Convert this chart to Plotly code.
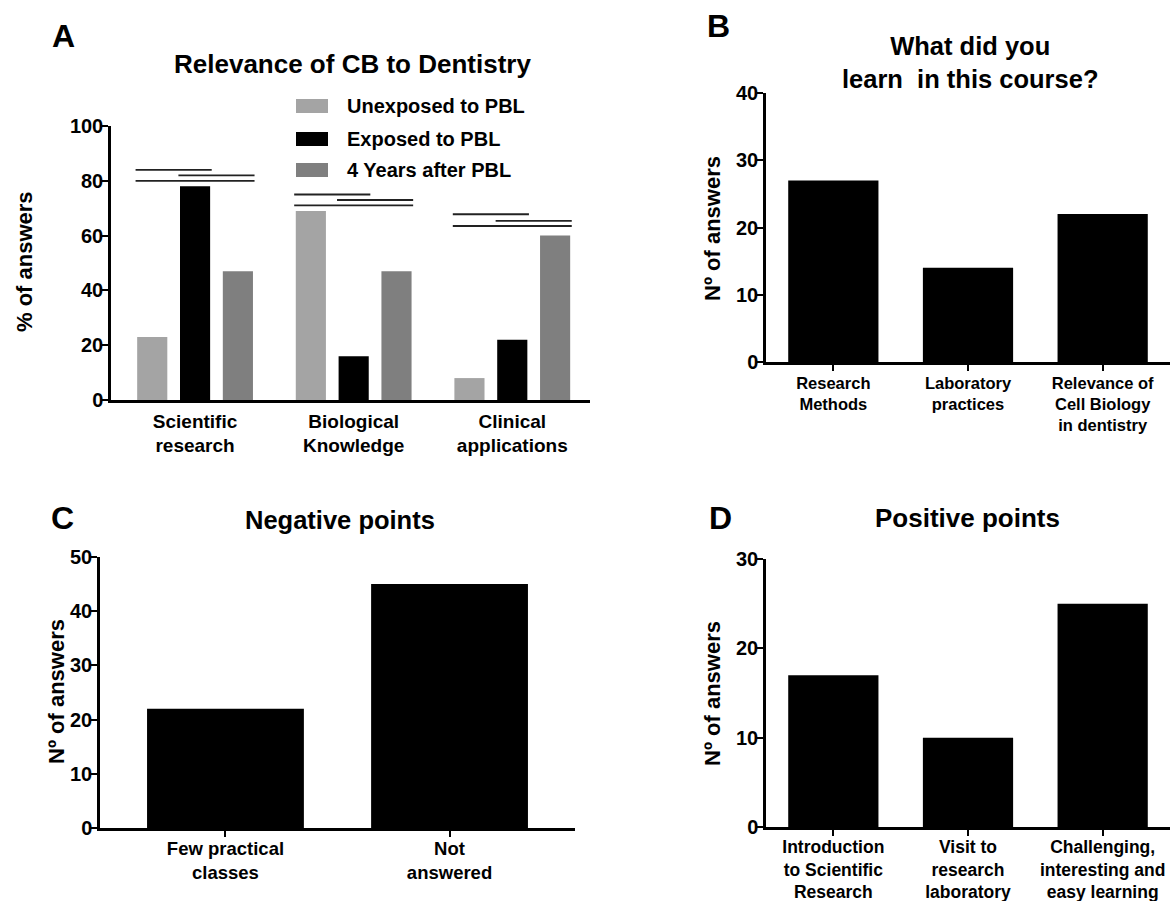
import plotly.graph_objects as go

W, H = 1170, 901
FONT = "Liberation Sans, Arial, Helvetica, sans-serif"

# ---------------- Data ----------------
# Panel A
a_categories = ["Scientific<br>research", "Biological<br>Knowledge", "Clinical<br>applications"]
a_series = ["Unexposed to PBL", "Exposed to PBL", "4 Years after PBL"]
a_unexposed = [23, 69, 8]
a_exposed = [78, 16, 22]
a_after = [47, 47, 60]
# heights of the comparison lines per category: (1 vs 2), (2 vs 3), (1 vs 3)
a_sig_levels = [[84, 82, 80], [75, 73, 71], [67.8, 65.4, 63.5]]

# Panel B
b_categories = ["Research<br>Methods", "Laboratory<br>practices", "Relevance of<br>Cell Biology<br>in dentistry"]
b_values = [27, 14, 22]

# Panel C
c_categories = ["Few practical<br>classes", "Not<br>answered"]
c_values = [22, 45]

# Panel D
d_categories = ["Introduction<br>to Scientific<br>Research", "Visit to<br>research<br>laboratory",
                "Challenging,<br>interesting and<br>easy learning"]
d_values = [17, 10, 25]

a_colors = ["#a4a4a4", "#000000", "#7f7f7f"]


def px(x):
    return x / W


def py(y):
    return 1 - y / H


fig = go.Figure()

# ---- Panel A bars ----
slot = 0.27
bw = 0.19
for k, (name, vals) in enumerate(zip(a_series, [a_unexposed, a_exposed, a_after])):
    fig.add_trace(go.Bar(
        x=list(range(len(a_categories))), y=vals, name=name,
        marker=dict(color=a_colors[k], line=dict(width=0)),
        width=bw, offset=(k - 1) * slot - bw / 2,
        xaxis="x", yaxis="y", showlegend=False,
    ))

# significance lines
pairs = [(0, 1), (1, 2), (0, 2)]
for i, levels in enumerate(a_sig_levels):
    for (p, q), lvl in zip(pairs, levels):
        x0 = i + (p - 1) * slot - bw / 2 - 0.01
        x1 = i + (q - 1) * slot + bw / 2 + 0.01
        fig.add_shape(type="line", xref="x", yref="y", x0=x0, x1=x1, y0=lvl, y1=lvl,
                      line=dict(color="#222222", width=1.8))

# ---- Panel B ----
fig.add_trace(go.Bar(x=list(range(3)), y=b_values, width=0.67,
                     marker=dict(color="black", line=dict(width=0)),
                     xaxis="x2", yaxis="y2", showlegend=False))
# ---- Panel C ----
fig.add_trace(go.Bar(x=list(range(2)), y=c_values, width=0.70,
                     marker=dict(color="black", line=dict(width=0)),
                     xaxis="x3", yaxis="y3", showlegend=False))
# ---- Panel D ----
fig.add_trace(go.Bar(x=list(range(3)), y=d_values, width=0.67,
                     marker=dict(color="black", line=dict(width=0)),
                     xaxis="x4", yaxis="y4", showlegend=False))

axis_common = dict(showline=True, linecolor="black", linewidth=2.5, showgrid=False,
                   zeroline=False, ticks="outside", ticklen=6, tickwidth=2, tickcolor="black",
                   automargin=False)
ytickfont = dict(family=FONT, size=20, color="black", weight="bold")


def xfont(size):
    return dict(family=FONT, size=size, color="black", weight="bold")


fig.update_layout(
    template="none",
    width=W, height=H, margin=dict(l=0, r=0, t=0, b=0, pad=0, autoexpand=False),
    paper_bgcolor="white", plot_bgcolor="white",
    barmode="overlay", showlegend=False,
    font=dict(family=FONT, color="black"),
    xaxis=dict(axis_common, domain=[px(111), px(590)], anchor="y", range=[-0.53, 2.49],
               tickvals=list(range(3)), ticktext=a_categories, ticks="",
               tickfont=xfont(19), ticklabelstandoff=2),
    yaxis=dict(axis_common, domain=[py(400), py(126)], anchor="x", range=[0, 100],
               tickvals=[0, 20, 40, 60, 80, 100], tickfont=ytickfont, ticklabelstandoff=-5),
    xaxis2=dict(axis_common, domain=[px(766), 1.0], anchor="y2", range=[-0.5, 2.5],
                tickvals=list(range(3)), ticktext=b_categories, tickfont=xfont(16.5),
                ticklabelstandoff=-2),
    yaxis2=dict(axis_common, domain=[py(362), py(93)], anchor="x2", range=[0, 40],
                tickvals=[0, 10, 20, 30, 40], tickfont=ytickfont, ticklabelstandoff=-5),
    xaxis3=dict(axis_common, domain=[px(100), px(575)], anchor="y3", range=[-0.56, 1.56],
                tickvals=list(range(2)), ticktext=c_categories, tickfont=xfont(18.5),
                ticklabelstandoff=-4),
    yaxis3=dict(axis_common, domain=[py(828), py(557)], anchor="x3", range=[0, 50],
                tickvals=[0, 10, 20, 30, 40, 50], tickfont=ytickfont, ticklabelstandoff=-5),
    xaxis4=dict(axis_common, domain=[px(766), 1.0], anchor="y4", range=[-0.5, 2.5],
                tickvals=list(range(3)), ticktext=d_categories, tickfont=xfont(17.5),
                ticklabelstandoff=-4),
    yaxis4=dict(axis_common, domain=[py(827), py(559)], anchor="x4", range=[0, 30],
                tickvals=[0, 10, 20, 30], tickfont=ytickfont, ticklabelstandoff=-5),
)


def text(x, y, s, size, angle=0, xanchor="center"):
    fig.add_annotation(x=px(x), y=py(y), xref="paper", yref="paper", text=s,
                       showarrow=False, textangle=angle, xanchor=xanchor, yanchor="middle",
                       font=dict(family=FONT, size=size, color="black", weight="bold"))


# panel letters
text(63, 36, "A", 32)
text(718, 26, "B", 32)
text(62, 518, "C", 32)
text(720, 518, "D", 32)

# titles
text(352, 64, "Relevance of CB to Dentistry", 26)
text(970, 62, "What did you<br>learn\u00a0 in this course?", 25.5)
text(340, 520, "Negative points", 25.5)
text(968, 518, "Positive points", 26)

# y-axis titles
text(24, 262, "% of answers", 22, angle=-90)
text(712, 228, "Nº of answers", 22, angle=-90)
text(56, 692, "Nº of answers", 22, angle=-90)
text(712, 693, "Nº of answers", 22, angle=-90)

# manual legend for panel A
leg_rows = [106, 139, 170]
for k, (name, yy) in enumerate(zip(a_series, leg_rows)):
    fig.add_shape(type="rect", xref="paper", yref="paper",
                  x0=px(296), x1=px(328), y0=py(yy + 7), y1=py(yy - 7),
                  fillcolor=a_colors[k], line=dict(width=0))
    text(345, yy, name, 20, xanchor="left")

fig.write_html("out.html", config={"displayModeBar": False},
               post_script="document.body.style.margin='0';document.body.style.overflow='hidden';")
